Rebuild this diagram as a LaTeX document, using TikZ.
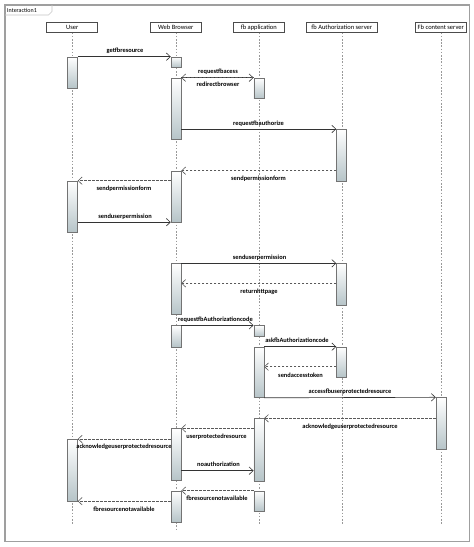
\documentclass[tikz,border=0pt]{standalone}
\usepackage{fontspec}
\setmainfont{Carlito}
\usetikzlibrary{arrows.meta}
\newcommand{\actbox}[4]{\node[actbar, minimum height={(#4)*1pt-(#3)*1pt}, anchor=north] (#1) at (#2,#3) {};}
\begin{document}
\begin{tikzpicture}[x=1pt,y=-1pt,
  frameline/.style={draw=gray!75, line width=1.1pt},
  headbox/.style={draw=black!70, fill=white, line width=0.6pt, inner sep=0pt, minimum height=9.6pt, font=\fontsize{6.5}{7}\selectfont},
  lifeline/.style={draw=gray!80, line width=0.6pt, dash pattern=on 1.6pt off 1.6pt},
  actbar/.style={draw=black!55, line width=0.5pt, top color=white, bottom color={rgb,255:red,182;green,196;blue,200}, minimum width=10pt, inner sep=0pt},
  msg/.style={draw=black!80, line width=0.65pt, -{Straight Barb[length=4pt,width=7.5pt,line width=0.6pt]}},
  ret/.style={msg, draw=black!65, dash pattern=on 2.5pt off 1.5pt},
  lbl/.style={font=\fontsize{6.4}{7}\selectfont\bfseries, inner sep=0pt}]
\useasboundingbox[fill=white] (0,0) rectangle (474,547);
% frame
\draw[frameline] (5,5) rectangle (469.5,541.5);
\draw[draw=gray!45, line width=0.6pt] (5,15) -- (48.5,15) -- (52,11.5) -- (52,5);
\node[font=\fontsize{6}{7}\selectfont, anchor=west, inner sep=0pt] (title) at (7,10.3) {Interaction1};
% headers
\node[headbox, minimum width=51pt] (hU) at (72.2,27.5) {User};
\node[headbox, minimum width=51.7pt] (hW) at (175.8,27.5) {Web Browser};
\node[headbox, minimum width=51pt] (hF) at (258.8,27.5) {fb application};
\node[headbox, minimum width=71.7pt] (hA) at (341.8,27.5) {fb Authorization server};
\node[headbox, minimum width=51.7pt] (hC) at (440.8,27.5) {Fb content server};
% lifelines
\coordinate (endL) at (0,525);
\coordinate (endW) at (0,531);
\draw[lifeline] (hU.south) -- (hU.south |- endL);
\draw[lifeline] (hW.south) -- (hW.south |- endW);
\draw[lifeline] (hF.south) -- (hF.south |- endL);
\draw[lifeline] (hA.south) -- (hA.south |- endL);
\draw[lifeline] (hC.south) -- (hC.south |- endL);
% activations
\actbox{u1}{72.5}{56.7}{87.7}
\actbox{u2}{72.5}{180.7}{232}
\actbox{u3}{72.5}{439}{500.7}
\actbox{w1}{176}{56.7}{67}
\actbox{w2}{176}{77.7}{139}
\actbox{w3}{176}{170.7}{221.7}
\actbox{w4}{176}{263.3}{314.3}
\actbox{w5}{176}{325.3}{346.7}
\actbox{w6}{176}{428.3}{480}
\actbox{w7}{176}{490.7}{521.7}
\actbox{f1}{258.8}{77.7}{98.3}
\actbox{f2}{258.8}{325.3}{336}
\actbox{f3}{258.8}{346.7}{397.3}
\actbox{f4}{258.8}{418.3}{480.7}
\actbox{f5}{258.8}{490.7}{511}
\actbox{a1}{341.5}{129}{180.7}
\actbox{a2}{341.5}{263.3}{305}
\actbox{a3}{341.5}{346.7}{376.7}
\actbox{c1}{441}{397.3}{449.3}
% messages
\draw[msg] (u1.north east) -- (w1.north west);
\node[lbl] (l1) at (125,51) {getfbresource};
\draw[msg] (w2.north east) -- (f1.north west);
\draw[ret] (f1.north west) -- (w2.north east);
\node[lbl] (l2) at (218,72) {requestfbacess};
\node[lbl] (l3) at (218,84) {redirectbrowser};
\draw[msg] (w2.east |- a1.north) -- (a1.north west);
\node[lbl] (l4) at (258.5,123.5) {requestfbauthorize};
\draw[ret] (a1.west |- w3.north) -- (w3.north east);
\node[lbl] (l5) at (258.5,178.5) {sendpermissionform};
\draw[ret] (w3.west |- u2.north) -- (u2.north east);
\node[lbl] (l6) at (124,189) {sendpermissionform};
\draw[msg] (u2.east |- w3.south) -- (w3.south west);
\node[lbl] (l7) at (125,216.5) {senduserpermission};
\draw[msg] (w4.north east) -- (a2.north west);
\node[lbl] (l8) at (259.5,257.5) {senduserpermission};
\coordinate (y8) at (0,283.3);
\draw[ret] (a2.west |- y8) -- (w4.east |- y8);
\node[lbl] (l9) at (259,292) {returnhttpage};
\draw[msg] (w5.north east) -- (f2.north west);
\node[lbl] (l10) at (215.5,319.5) {requestfbAuthorizationcode};
\draw[msg] (f3.north east) -- (a3.north west);
\node[lbl] (l11) at (297,340.5) {askfbAuthorizationcode};
\coordinate (y11) at (0,366.7);
\draw[ret] (a3.west |- y11) -- (f3.east |- y11);
\node[lbl] (l12) at (300.5,375) {sendaccesstoken};
\draw[msg] (f3.south east) -- (c1.north west);
\node[lbl] (l13) at (350,391.5) {accessfbuserprotectedresource};
\draw[ret] (c1.west |- f4.north) -- (f4.north east);
\node[lbl] (l14) at (350,426.5) {acknowledgeuserprotectedresource};
\draw[ret] (f4.west |- w6.north) -- (w6.north east);
\node[lbl] (l15) at (216.5,437) {userprotectedresource};
\draw[ret] (w6.west |- u3.north) -- (u3.north east);
\node[lbl] (l16) at (124,446.5) {acknowledgeuserprotectedresource};
\coordinate (y16) at (0,470.7);
\draw[msg] (w6.east |- y16) -- (f4.west |- y16);
\node[lbl] (l17) at (218.5,464) {noauthorization};
\draw[ret] (f5.north west) -- (w7.north east);
\node[lbl] (l18) at (217,498.5) {fbresourcenotavailable};
\draw[ret] (w7.west |- u3.south) -- (u3.south east);
\node[lbl] (l19) at (124,509) {fbresourcenotavailable};
\end{tikzpicture}
\end{document}
